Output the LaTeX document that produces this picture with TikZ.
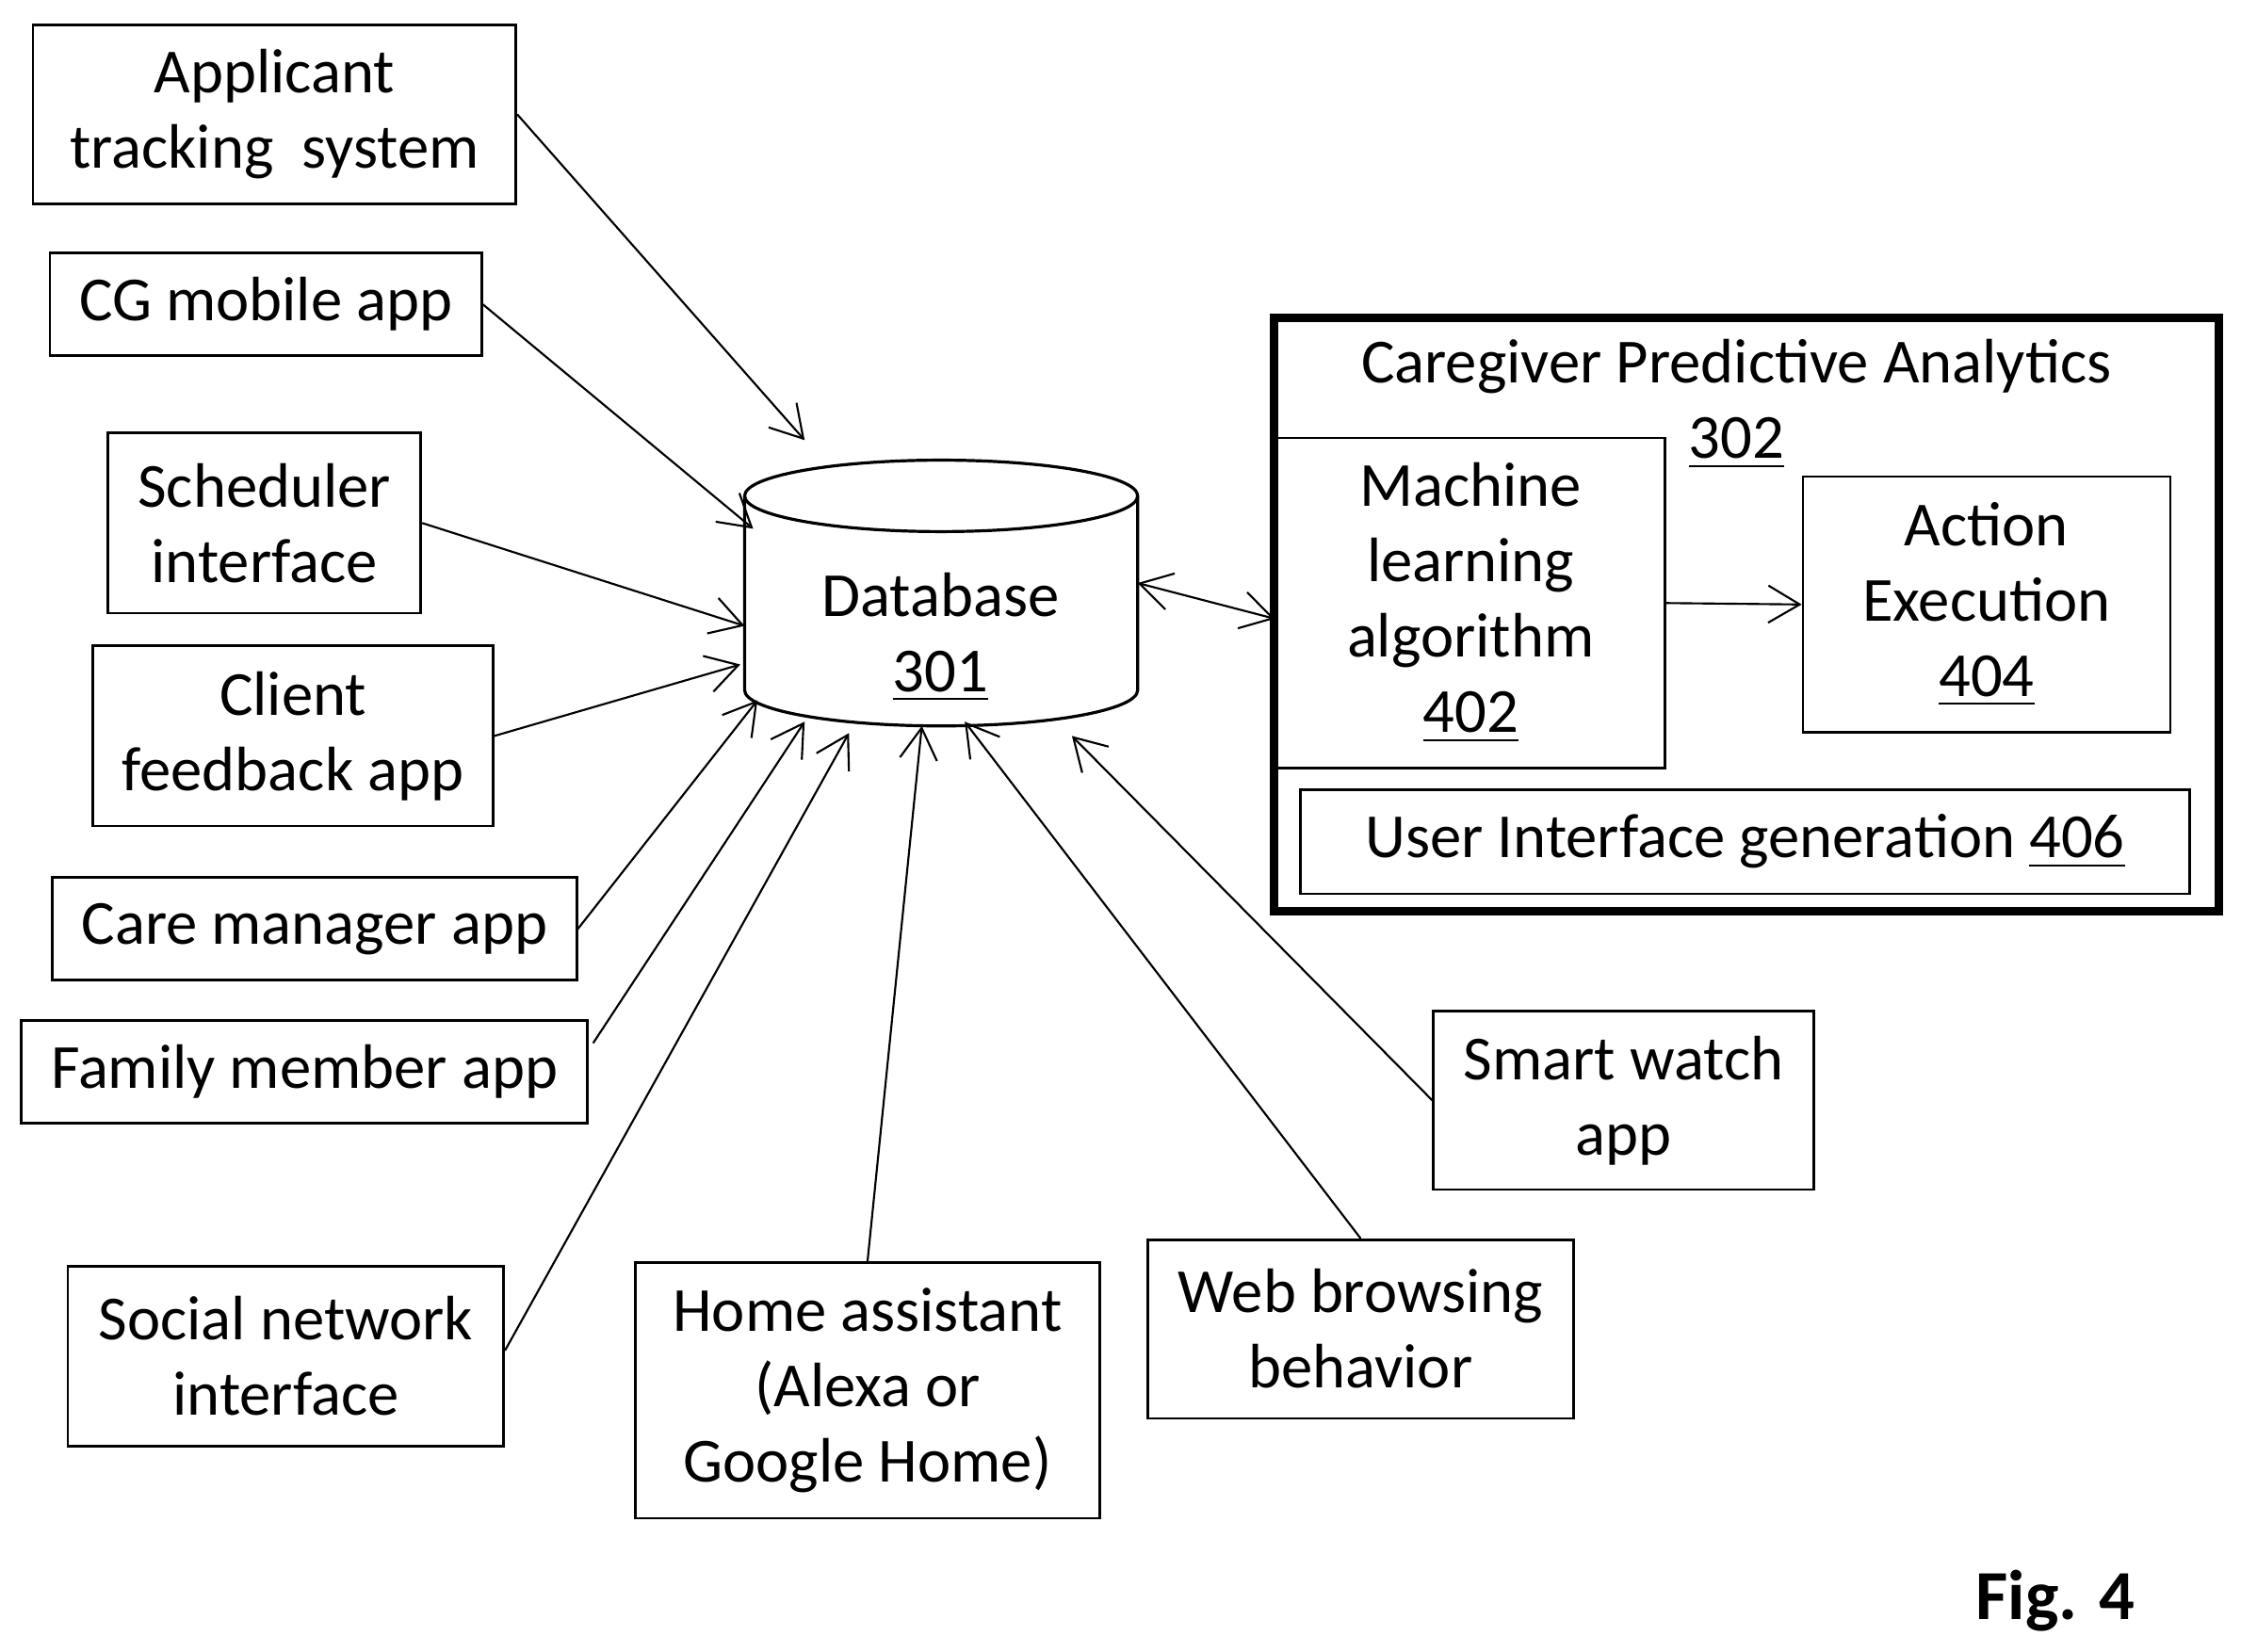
\documentclass[tikz,border=0pt]{standalone}
\usepackage{fontspec}
\setmainfont{Carlito}
\usetikzlibrary{arrows.meta}
\begin{document}
\begin{tikzpicture}[
            x=0.1mm, y=-0.1mm,
            font=\fontsize{12.5}{15}\selectfont,
            box/.style={rectangle, draw, line width=0.5pt, align=center, inner sep=0pt},
            arrow/.style={-{Straight Barb[length=2.2mm,width=2.6mm]}, line width=0.4pt},
            biarrow/.style={{Straight Barb[length=2.2mm,width=2.6mm]}-{Straight Barb[length=2.2mm,width=2.6mm]}, line width=0.4pt}
        ]
        \useasboundingbox (0,0) rectangle (1568,1156);

        % Source boxes
        \node[box, minimum width=33.8mm, minimum height=12.5mm] (ats) at (192,80) {Applicant\\tracking\ \ system};
        \node[box, minimum width=30.2mm, minimum height=7.2mm] (cg) at (186,213) {CG mobile app};
        \node[box, minimum width=21.9mm, minimum height=12.6mm] (sched) at (185,366) {Scheduler\\interface};
        \node[box, minimum width=28mm, minimum height=12.6mm] (client) at (205,515) {Client\\feedback app};
        \node[box, minimum width=36.7mm, minimum height=7.2mm] (care) at (220,650) {Care manager app};
        \node[box, minimum width=39.6mm, minimum height=7.2mm] (family) at (213,750) {Family member app};
        \node[box, minimum width=30.5mm, minimum height=12.6mm] (social) at (200,949) {Social network\\interface};
        \node[box, minimum width=32.5mm, minimum height=17.9mm] (home) at (607,973) {Home assistant\\(Alexa or\\Google Home)};
        \node[box, minimum width=29.8mm, minimum height=12.5mm] (web) at (952,930) {Web browsing\\behavior};
        \node[box, minimum width=26.6mm, minimum height=12.5mm] (watch) at (1136,770) {Smart watch\\app};

        % Database
        \draw[line width=0.6pt] (521,347) arc[start angle=180, end angle=360, x radius=137.5, y radius=-25]
            arc[start angle=0, end angle=180, x radius=137.5, y radius=-25];
        \draw[line width=0.6pt] (521,347) -- (521,483) arc[start angle=180, end angle=360, x radius=137.5, y radius=-25] -- (796,347);
        \node[align=center] (db) at (658,446) {Database\\\underline{301}};
        \coordinate (db1) at (563,308);
        \coordinate (db2) at (527,370);
        \coordinate (db3) at (521,438);
        \coordinate (db4) at (518,465);
        \coordinate (db5) at (530,490);
        \coordinate (db6) at (563,505);
        \coordinate (db7) at (594,513);
        \coordinate (db8) at (645,508);
        \coordinate (db9) at (675,505);
        \coordinate (db10) at (750,515);
        \coordinate (dbr) at (796,408);

        % Analytics block
        \node[box, line width=1.6pt, minimum width=66.1mm, minimum height=41.5mm] (cpa) at (1222,430) {};
        \node[align=center] (cpat) at (1215,283) {Caregiver Predictive Analytics\\\underline{302}};
        \node[box, minimum width=27.2mm, minimum height=23.1mm] (ml) at (1029,422) {Machine\\learning\\algorithm\\\underline{402}};
        \node[box, minimum width=25.7mm, minimum height=17.9mm] (act) at (1390,423) {Action\\Execution\\\underline{404}};
        \node[box, minimum width=62.2mm, minimum height=7.3mm] (ui) at (1221,589) {User Interface generation \underline{406}};
        \coordinate (cpal) at (892,433);

        % Arrows into database
        \draw[arrow] (ats.east |- 0,80) -- (db1);
        \draw[arrow] (cg.east) -- (db2);
        \draw[arrow] (sched.east) -- (db3);
        \draw[arrow] (client.east) -- (db4);
        \draw[arrow] (care.east) -- (db5);
        \draw[arrow] (415,730) -- (db6);
        \draw[arrow] (social.east |- 0,945) -- (db7);
        \draw[arrow] (home.north) -- (db8);
        \draw[arrow] (web.north) -- (db9);
        \draw[arrow] (watch.west) -- (db10);
        \draw[biarrow] (dbr) -- (cpal);
        \draw[arrow] (ml.east) -- (act.west);

        \node[font=\fontsize{14}{17}\selectfont\bfseries] (fig) at (1438,1120) {Fig. 4};
    \end{tikzpicture}
\end{document}
